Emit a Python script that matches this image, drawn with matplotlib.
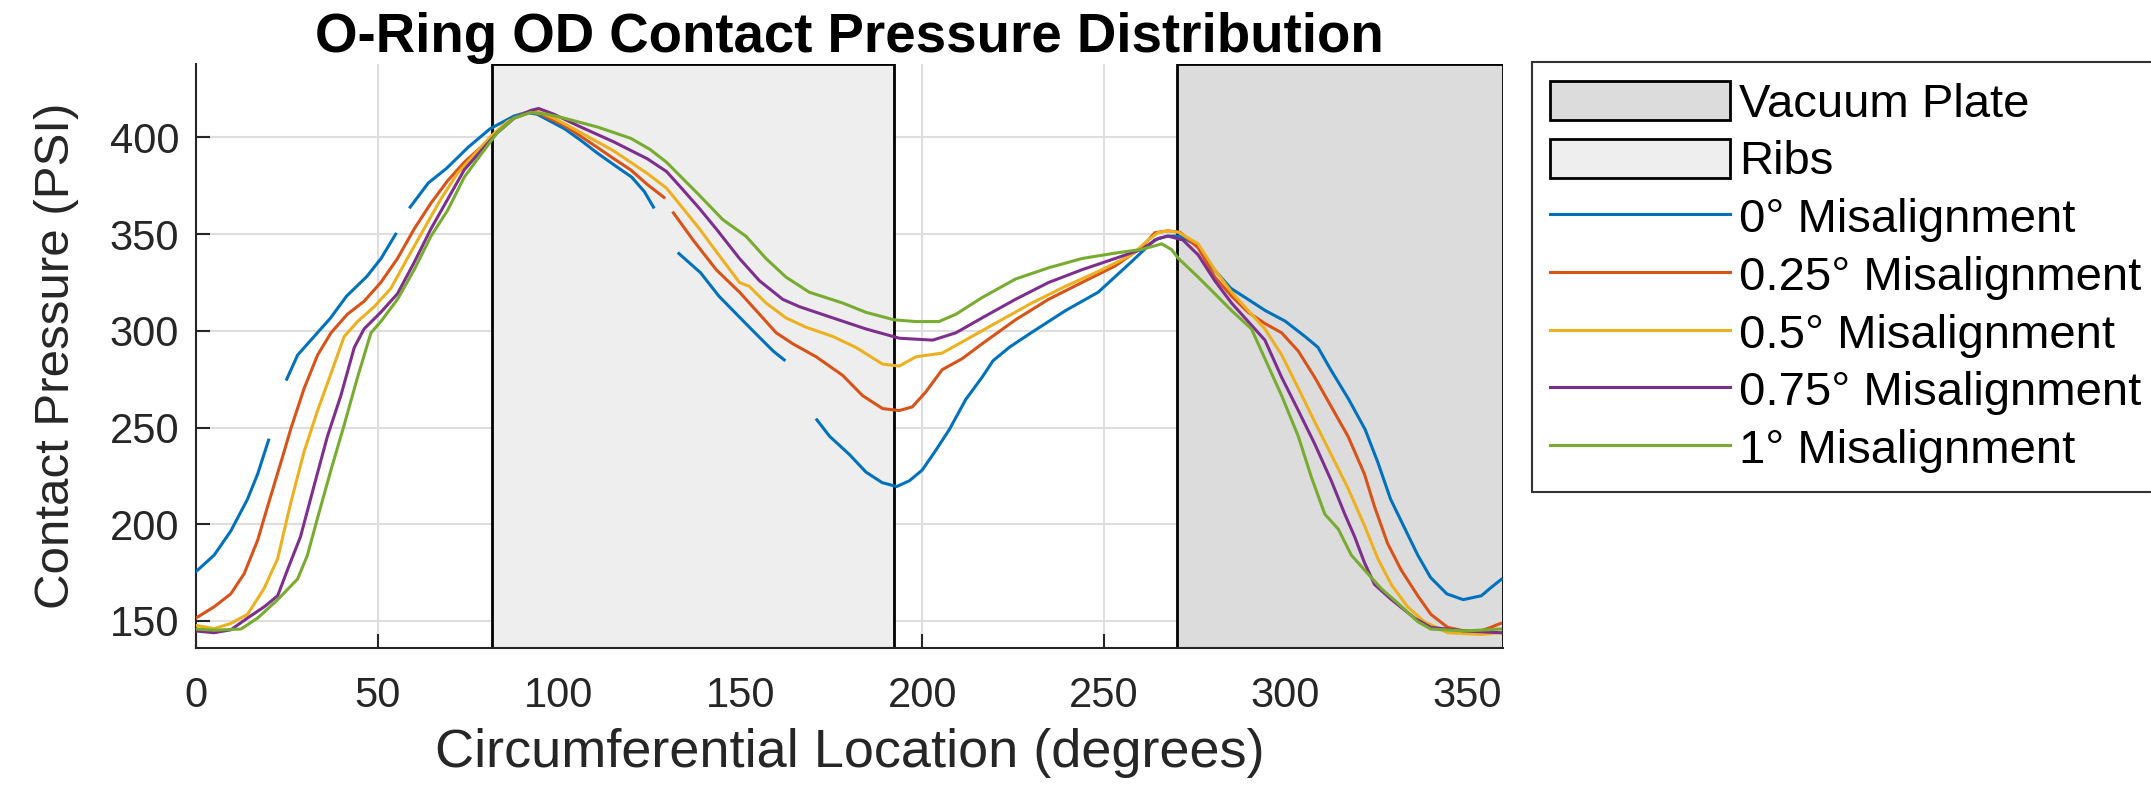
import numpy as np
import matplotlib
matplotlib.use("Agg")
import matplotlib.pyplot as plt
from matplotlib.patches import Patch
from matplotlib.lines import Line2D

nan = np.nan

# regions (degrees)
ribs_span = (81.5, 192.3)
vacuum_span = (270.3, 360)

# 0 deg misalignment (gaps in the source curve kept as nan)
x_0 = [0, 5, 9.6, 14.2, 17, 20, 22, 25, 28, 32.5, 37, 41.5, 47, 51, 55, 57, 59, 64, 69, 75, 81, 87.5,
       91, 94, 97, 101.5, 106, 110.5, 115, 120, 123.5, 126, 130, 133, 139, 144, 150, 155, 159, 162, 166,
       171, 174.5, 180, 184.5, 189, 193, 196.5, 200, 203.5, 207.5, 212, 216.5, 219.5, 224, 230, 239.5,
       248.5, 257.5, 264, 267.5, 271, 276, 280.5, 285, 290, 294.5, 300, 305.5, 309, 312.5, 317.5, 322,
       325.5, 329, 333, 336.5, 340, 344.5, 349, 354, 356.5, 359.5]
p_0 = [175.5, 184, 196.5, 213, 226, 243.5, nan, 275, 287.5, 297, 306.5, 318, 328, 337.5, 350, nan, 364,
       376.5, 384, 395, 404.5, 411, 413, 412, 409, 404.5, 398.5, 392, 386, 379.5, 372, 364, nan, 340, 330,
       318, 306.5, 297, 289.5, 285, nan, 254, 245.5, 236, 227, 221.5, 219.5, 222.5, 228, 237.5, 249, 264.5,
       276, 284.5, 291.5, 299, 310.5, 320, 335.5, 347, 349, 349, 344, 331.5, 322, 316, 310.5, 305, 297,
       291.5, 280, 264.5, 249, 232, 213, 197.5, 184, 172.5, 164, 161, 163, 167, 171.5]

# 0.25 deg misalignment
x_025 = [0, 5, 9.6, 13.3, 17, 19.7, 23.4, 26.1, 29.8, 33.5, 37.2, 41.7, 46.3, 50.9, 55.5, 60.1, 64.7,
         69.3, 73.9, 78.4, 83, 87.6, 92.2, 95, 101.4, 106, 110.6, 115.1, 119.7, 124.3, 128.9, 130.2,
         131.5, 136.9, 143.3, 149.7, 155.2, 159.8, 164.4, 170.8, 178.1, 183.6, 189.1, 193.7, 197.3, 201,
         205.5, 211, 216.5, 225.7, 234.8, 244, 253.1, 260.4, 264.1, 267.7, 271, 276, 280.6, 285.2, 289.8,
         294.4, 299, 303.6, 308.1, 312.7, 317.3, 321.8, 324.6, 328.2, 331.9, 336.5, 340.1, 344.7, 349.3,
         353.8, 356.6, 359.3]
p_025 = [151.5, 157.3, 164, 174.5, 191.8, 209, 232, 249.2, 270.3, 287.5, 299, 308.6, 315.3, 325, 337.4,
         352.7, 366, 377.6, 387.2, 394.8, 402.5, 410, 413, 412, 406.3, 400.6, 394.8, 389, 383.3, 375.7,
         369, nan, 361, 347, 331.6, 320, 308.6, 299, 293.3, 286.6, 277, 266.5, 259.8, 258.8, 260.7, 268.4,
         279.9, 285.6, 293.3, 305.7, 316.3, 325, 333.5, 343, 350.8, 351.7, 351, 343, 327.8, 318, 309.6,
         303.8, 299, 289.5, 276, 260.7, 245.4, 226, 209, 190, 176.4, 163, 153.4, 146.7, 144.8, 144.8,
         146.7, 148.7]

# 0.5 deg misalignment
x_05 = [0, 5, 9.6, 14.2, 18.8, 22.5, 26.1, 29.8, 33.5, 37.2, 40.8, 44.5, 49.1, 53.7, 58.2, 62.8, 67.4,
        72, 76.6, 81.2, 85.8, 90.4, 94, 98.6, 106, 115.1, 124.3, 129.6, 134.2, 138.7, 143.3, 149.7, 152.4,
        157, 162.5, 168, 175.4, 181.8, 189.1, 193.7, 198.3, 205.5, 211.9, 221, 230.2, 239.4, 248.5, 257.7,
        262.3, 265, 267.7, 270.6, 276, 280.6, 285.2, 289.8, 294.4, 299, 303.6, 308.1, 312.7, 317.3, 321.8,
        325.5, 329.2, 333.7, 338.3, 344.7, 353.8, 359.3]
p_05 = [147.7, 146, 148.7, 153.4, 166.9, 182.2, 211, 237.7, 258.8, 278, 297, 304.8, 312.5, 322, 337.4,
        352.7, 368, 381.4, 391, 400.6, 408.2, 412.5, 413.6, 410, 402.5, 393, 381.4, 373.8, 363.2, 352.7,
        341, 325, 323, 314.4, 306.7, 301.9, 297.1, 291.4, 282.8, 281.8, 286.6, 288.5, 295.2, 304.8, 314.4,
        323, 330.7, 339.3, 347, 350.8, 351.7, 351, 345, 331.6, 320, 310.5, 301, 287.6, 270.3, 253, 235.8,
        218.5, 199.4, 182.2, 168.8, 157.3, 149.6, 143.9, 143, 143.9]

# 0.75 deg misalignment
x_075 = [0, 5, 9.6, 14.2, 18.8, 22.5, 25.2, 28.8, 32.6, 36.2, 39.9, 43.6, 46.3, 50.9, 55.5, 60.1, 64.7,
         69.3, 73.9, 78.4, 83, 87.6, 92.2, 94.4, 98.6, 106, 115.1, 124.3, 129.6, 134.2, 138.7, 143.3,
         149.7, 155.2, 161.6, 166.2, 175.4, 184.5, 193.7, 202.9, 209.3, 216.5, 225.7, 234.8, 244, 253.1,
         260.4, 265, 267.7, 271.8, 276, 280.6, 285.2, 289.8, 294.4, 299, 303.6, 308.1, 312.7, 316.4, 319.1,
         321.8, 324.6, 329.2, 335.6, 340.1, 349.3, 359.3]
p_075 = [144.8, 143.9, 145.4, 151.5, 157.3, 163, 176.4, 193.6, 220.4, 245.4, 266.5, 291.4, 301, 309.6,
         319.2, 335.4, 352.7, 368, 383.3, 392.9, 402.5, 410, 414, 415, 412, 405.4, 397.7, 389, 382.4, 372.8,
         363.2, 352.7, 337.4, 325.9, 316.3, 312.5, 306.7, 301, 296.2, 295.2, 299, 306.7, 316.3, 325, 331.6,
         337.4, 342.1, 347.8, 349, 347, 339.3, 325.9, 314.4, 304.8, 295.2, 276, 258.8, 241.6, 222.4, 205.2,
         193.6, 180.2, 168.8, 161.1, 151.5, 146.7, 144.8, 143.9]

# 1 deg misalignment
x_1 = [0, 5, 12.4, 17, 22.5, 28, 30.7, 33.5, 37.2, 40.8, 44.5, 48.2, 50.9, 55.5, 60.1, 64.7, 69.3, 73.9,
       78.4, 83, 87.6, 92.2, 96.8, 101.4, 110.6, 119.7, 125, 129.6, 134.2, 138.7, 145.1, 151.5, 157, 162.5,
       168.9, 178.1, 184.5, 192.3, 198.3, 204.6, 209.3, 216.5, 225.7, 234.8, 244, 253.1, 260.4, 266, 268.7,
       270.6, 276, 280.6, 285.2, 290.7, 294.4, 299, 303.6, 307.2, 310.9, 314.6, 318.2, 321.8, 326.4, 331,
       336.5, 340.1, 349.3, 359.3]
p_1 = [145.8, 145.2, 145.8, 151.5, 161, 171.7, 184, 203.3, 228.2, 251.2, 276, 299, 304.8, 316.3, 331.6,
       348.9, 362.3, 379.5, 391, 402.5, 410, 413, 412, 410, 405.4, 399.6, 393.9, 387.2, 378.5, 370, 357.5,
       348.9, 337.4, 327.8, 320, 314.4, 309.6, 305.7, 304.8, 304.8, 308.6, 317.2, 326.8, 332.6, 337.4,
       340.2, 342.1, 345, 342, 337.4, 327.8, 319.2, 310.5, 301, 285.6, 266.5, 245.4, 224.3, 205.2, 197.5,
       184, 176.4, 166.8, 159.2, 149.6, 145.8, 144.8, 145.8]

series = [
    (x_0, p_0, "0° Misalignment", "#0072BD"),
    (x_025, p_025, "0.25° Misalignment", "#D95319"),
    (x_05, p_05, "0.5° Misalignment", "#EDB120"),
    (x_075, p_075, "0.75° Misalignment", "#7E2F8E"),
    (x_1, p_1, "1° Misalignment", "#77AC30"),
]

plt.rcParams['font.family'] = ['Liberation Sans', 'DejaVu Sans']
axis_color = "#262626"

fig = plt.figure(figsize=(21.51, 8), dpi=100)
ax = fig.add_axes([0.0911, 0.19, 0.6077, 0.73])

vac_color = "#dcdcdc"
rib_color = "#eeeeee"
ax.axvspan(*vacuum_span, facecolor=vac_color, edgecolor="black", linewidth=2, zorder=1)
ax.axvspan(*ribs_span, facecolor=rib_color, edgecolor="black", linewidth=2, zorder=1)

for xs, ps, label, color in series:
    ax.plot(xs, ps, color=color, linewidth=2.2, zorder=3)

ax.set_xlim(0, 360)
ax.set_ylim(136, 438)
ax.set_xticks([0, 50, 100, 150, 200, 250, 300, 350])
ax.set_yticks([150, 200, 250, 300, 350, 400])
ax.set_axisbelow(True)
ax.grid(True, color="#dedede", linewidth=1.5)
ax.tick_params(direction="in", length=10, width=1.5, labelsize=30, colors=axis_color)
ax.tick_params(axis="x", pad=20)
ax.tick_params(axis="y", pad=12)
for side in ["top", "right"]:
    ax.spines[side].set_visible(False)
for side in ["left", "bottom"]:
    ax.spines[side].set_color(axis_color)
    ax.spines[side].set_linewidth(1.5)

ax.set_xlabel("Circumferential Location (degrees)", fontsize=39, color=axis_color, labelpad=9)
ax.set_ylabel("Contact Pressure (PSI)", fontsize=35.5, color=axis_color, labelpad=22)
ax.set_title("O-Ring OD Contact Pressure Distribution", fontsize=39.3, fontweight="bold", pad=8)

handles = [Patch(facecolor=vac_color, edgecolor="black", linewidth=2, label="Vacuum Plate"),
           Patch(facecolor=rib_color, edgecolor="black", linewidth=2, label="Ribs")]
handles += [Line2D([], [], color=c, linewidth=2.2, label=l) for _, _, l, c in series]
leg = fig.legend(handles=handles, loc="upper left", bbox_to_anchor=(0.712, 0.9225),
                 fontsize=34, frameon=True, fancybox=False, handlelength=3.8, handleheight=0.9,
                 handletextpad=0.2, labelspacing=0.25, borderpad=0.4, borderaxespad=0)
leg.get_frame().set_edgecolor("black")
leg.get_frame().set_linewidth(1.5)

fig.savefig("out.png", dpi=100)
